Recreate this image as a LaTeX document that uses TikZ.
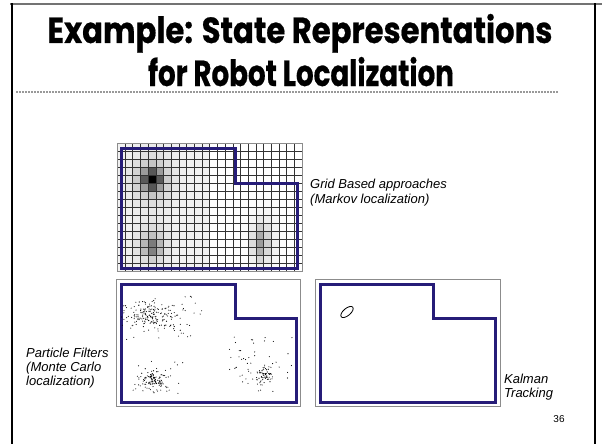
\documentclass[tikz,border=0pt]{standalone}
\usepackage{fontspec}
\setmainfont{Liberation Sans}
\newfontfamily\titlefont{Poppins}[BoldFeatures={FakeBold=0.6}]
\definecolor{navy}{RGB}{38,28,120}
\tikzset{
  frameline/.style={black, line width=2.2pt},
  panelbox/.style={draw=black!45, line width=0.8pt},
  gridline/.style={black!80, line width=0.9pt},
  mapline/.style={navy, line width=3pt, line join=miter},
  lbl/.style={font=\itshape\fontsize{13}{15}\selectfont, inner sep=0pt, anchor=base west},
  ttl/.style={font=\titlefont\bfseries\fontsize{33}{36}\selectfont, inner sep=0pt, anchor=base},
  dot/.style={fill=black, inner sep=0pt}
}
\begin{document}
\begin{tikzpicture}[x=1pt,y=-1pt]
\useasboundingbox (0,0) rectangle (602,444);
% slide frame
\draw[black!55, line width=1.2pt] (10,4) -- (602,4);
\draw[frameline] (12,3.4) -- (12,444);
\draw[frameline] (595,3.4) -- (595,444);
% title
\node[ttl] (t1) at (300,43) {\scalebox{0.93}[1.1]{Example: State Representations}};
\node[ttl] (t2) at (301,86) {\scalebox{0.84}[1.1]{for Robot Localization}};
\draw[black!40, line width=1.6pt, dash pattern=on 1.6pt off 1.4pt] (16,92) -- (558,92);
% grid panel
\foreach \c in {0,...,23}{
  \foreach \r in {0,...,15}{
    \pgfmathsetmacro\v{100*min(1, 0.95*exp(-0.9*((\c-4)*(\c-4)+(\r-4)*(\r-4))) + 0.25*exp(-((\c-4)*(\c-4)/6+(\r-4)*(\r-4)/8)) + 0.38*exp(-((\c-4)*(\c-4)/1.0+(\r-12.5)*(\r-12.5)/1.2)) + 0.16*exp(-((\c-4)*(\c-4)/4+(\r-12)*(\r-12)/6)) + 0.28*exp(-((\c-18)*(\c-18)/0.8+(\r-12)*(\r-12)/4)) + 0.12*exp(-((\c-18.5)*(\c-18.5)/3+(\r-11.5)*(\r-11.5)/10)) + 0.05*(\c<12))}
    \fill[black!\v] (117.5+\c*7.7,143+\r*8) rectangle ++(7.7,8);
  }
}
\foreach \k in {1,...,23}{\draw[gridline] (117.5+\k*7.7,143) -- (117.5+\k*7.7,271);}
\foreach \k in {1,...,15}{\draw[gridline] (117.5,143+\k*8) -- (302.3,143+\k*8);}
\draw[panelbox] (117.5,143) rectangle (302.3,271);
\draw[mapline] (121,148) -- (235,148) -- (235,183) -- (297,183) -- (297,268) -- (121,268) -- cycle;
% particle panel
\draw[panelbox] (116,279) rectangle (300,406);
\draw[mapline] (121,284) -- (235,284) -- (235,318) -- (296,318) -- (296,402) -- (121,402) -- cycle;
\pgfmathsetseed{7}
\foreach \i in {1,...,170}{
  \pgfmathsetmacro\px{152+14*(rand+rand+rand)}
  \pgfmathsetmacro\py{314+7*(rand+rand+rand)}
  \fill (\px,\py) circle (0.55pt);
}
\foreach \i in {1,...,40}{
  \pgfmathsetmacro\px{165+40*rand}
  \pgfmathsetmacro\py{318+22*rand}
  \fill (\px,\py) circle (0.55pt);
}
\foreach \i in {1,...,110}{
  \pgfmathsetmacro\px{153+7*(rand+rand+rand)}
  \pgfmathsetmacro\py{380+5*(rand+rand+rand)}
  \fill (\px,\py) circle (0.55pt);
}
\foreach \i in {1,...,25}{
  \pgfmathsetmacro\px{155+28*rand}
  \pgfmathsetmacro\py{378+18*rand}
  \fill (\px,\py) circle (0.55pt);
}
\foreach \i in {1,...,60}{
  \pgfmathsetmacro\px{264+6*(rand+rand+rand)}
  \pgfmathsetmacro\py{375+4*(rand+rand+rand)}
  \fill (\px,\py) circle (0.55pt);
}
\foreach \i in {1,...,50}{
  \pgfmathsetmacro\px{260+32*rand}
  \pgfmathsetmacro\py{364+28*rand}
  \fill (\px,\py) circle (0.55pt);
}
% kalman panel
\draw[panelbox] (315,279) rectangle (500,406);
\draw[mapline] (320,284) -- (433,284) -- (433,318) -- (495,318) -- (495,402) -- (320,402) -- cycle;
\draw[black, line width=0.8pt, rotate around={40:(347,312)}] (347,312) ellipse (7.5pt and 3.6pt);
% labels
\node[lbl] (g1) at (310,188.5) {Grid Based approaches};
\node[lbl] (g2) at (310,203) {(Markov localization)};
\node[lbl] (p1) at (26,357.5) {Particle Filters};
\node[lbl] (p2) at (26,371.5) {(Monte Carlo};
\node[lbl] (p3) at (26,385) {localization)};
\node[lbl] (k1) at (504,383) {Kalman};
\node[lbl] (k2) at (504,397.5) {Tracking};
\node[font=\fontsize{10}{12}\selectfont, inner sep=0pt, anchor=base] (num) at (559,422) {36};
\end{tikzpicture}
\end{document}
